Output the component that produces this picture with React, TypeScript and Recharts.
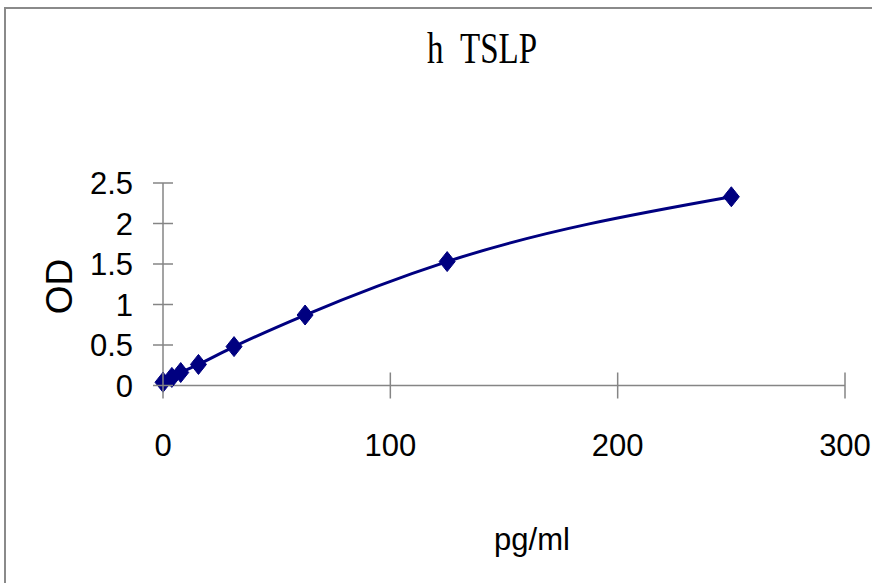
import React from 'react';
import { LineChart, Line, XAxis, YAxis } from 'recharts';

const concentrations = [0, 3.9, 7.8, 15.6, 31.25, 62.5, 125, 250];
const odValues = [0.04, 0.1, 0.16, 0.26, 0.48, 0.87, 1.53, 2.33];
const xTicks = [0, 100, 200, 300];
const yTicks = [0, 0.5, 1, 1.5, 2, 2.5];

const data = concentrations.map((c, i) => ({ conc: c, od: odValues[i] }));

const AXIS_GREY = '#858585';
const NAVY = '#000080';
const LABEL_FONT = '"Liberation Sans", Arial, sans-serif';

const Diamond = (props: any) => {
  const { cx, cy } = props;
  if (cx == null || cy == null) return null;
  return (
    <path
      d={`M${cx},${cy - 10} L${cx + 8},${cy} L${cx},${cy + 10} L${cx - 8},${cy} Z`}
      fill={NAVY}
      stroke={NAVY}
    />
  );
};

const XTick = (props: any) => {
  const { x, y, payload } = props;
  return (
    <g>
      <line x1={x} y1={y - 13} x2={x} y2={y + 13} stroke={AXIS_GREY} strokeWidth={1.5} />
      <text x={x} y={y + 70} textAnchor="middle" fontSize={31} fontFamily={LABEL_FONT} fill="#000">
        {payload.value}
      </text>
    </g>
  );
};

const YTick = (props: any) => {
  const { x, y, payload } = props;
  return (
    <g>
      <line x1={x - 10} y1={y} x2={x + 10} y2={y} stroke={AXIS_GREY} strokeWidth={1.5} />
      <text x={x - 30} y={y} dy="0.36em" textAnchor="end" fontSize={31} fontFamily={LABEL_FONT} fill="#000">
        {payload.value}
      </text>
    </g>
  );
};

export default function App() {
  return (
    <div
      style={{
        position: 'absolute',
        left: 0,
        top: 0,
        width: 872,
        height: 583,
        overflow: 'hidden',
        background: '#fff',
      }}
    >
      {/* outer frame, only left and top edges show */}
      <div
        style={{
          position: 'absolute',
          left: 4,
          top: 7,
          width: 900,
          height: 600,
          borderLeft: '2px solid #8a8a8a',
          borderTop: '2px solid #8a8a8a',
        }}
      />
      <div
        style={{
          position: 'absolute',
          left: 482,
          top: 24,
          transform: 'translateX(-50%) scaleX(0.75)',
          fontFamily: '"Liberation Serif", "Times New Roman", serif',
          fontSize: 44,
          lineHeight: '50px',
          whiteSpace: 'pre',
        }}
      >
        {'h\u2002TSLP'}
      </div>
      <LineChart
        width={872}
        height={583}
        data={data}
        margin={{ top: 183, right: 27, bottom: 137.5, left: 103 }}
        style={{ position: 'absolute', left: 0, top: 0 }}
      >
        <XAxis
          dataKey="conc"
          type="number"
          domain={[0, 300]}
          ticks={xTicks}
          height={60}
          tickSize={0}
          tickMargin={0}
          tickLine={false}
          axisLine={{ stroke: AXIS_GREY, strokeWidth: 1.5 }}
          tick={<XTick />}
          interval={0}
        />
        <YAxis
          type="number"
          domain={[0, 2.5]}
          ticks={yTicks}
          width={60}
          tickSize={0}
          tickMargin={0}
          tickLine={false}
          axisLine={{ stroke: AXIS_GREY, strokeWidth: 1.5 }}
          tick={<YTick />}
          interval={0}
        />
        <Line
          type="monotone"
          dataKey="od"
          stroke={NAVY}
          strokeWidth={3}
          dot={<Diamond />}
          activeDot={false}
          isAnimationActive={false}
        />
      </LineChart>
      <svg
        width={872}
        height={583}
        style={{ position: 'absolute', left: 0, top: 0, pointerEvents: 'none' }}
      >
        <text
          x={532}
          y={550}
          textAnchor="middle"
          fontSize={31}
          fontFamily={LABEL_FONT}
          fill="#000"
        >
          pg/ml
        </text>
        <text
          x={58.5}
          y={286.5}
          dy="0.36em"
          textAnchor="middle"
          fontSize={37}
          fontFamily={LABEL_FONT}
          fill="#000"
          transform="rotate(-90 58.5 286.5)"
        >
          OD
        </text>
      </svg>
    </div>
  );
}
